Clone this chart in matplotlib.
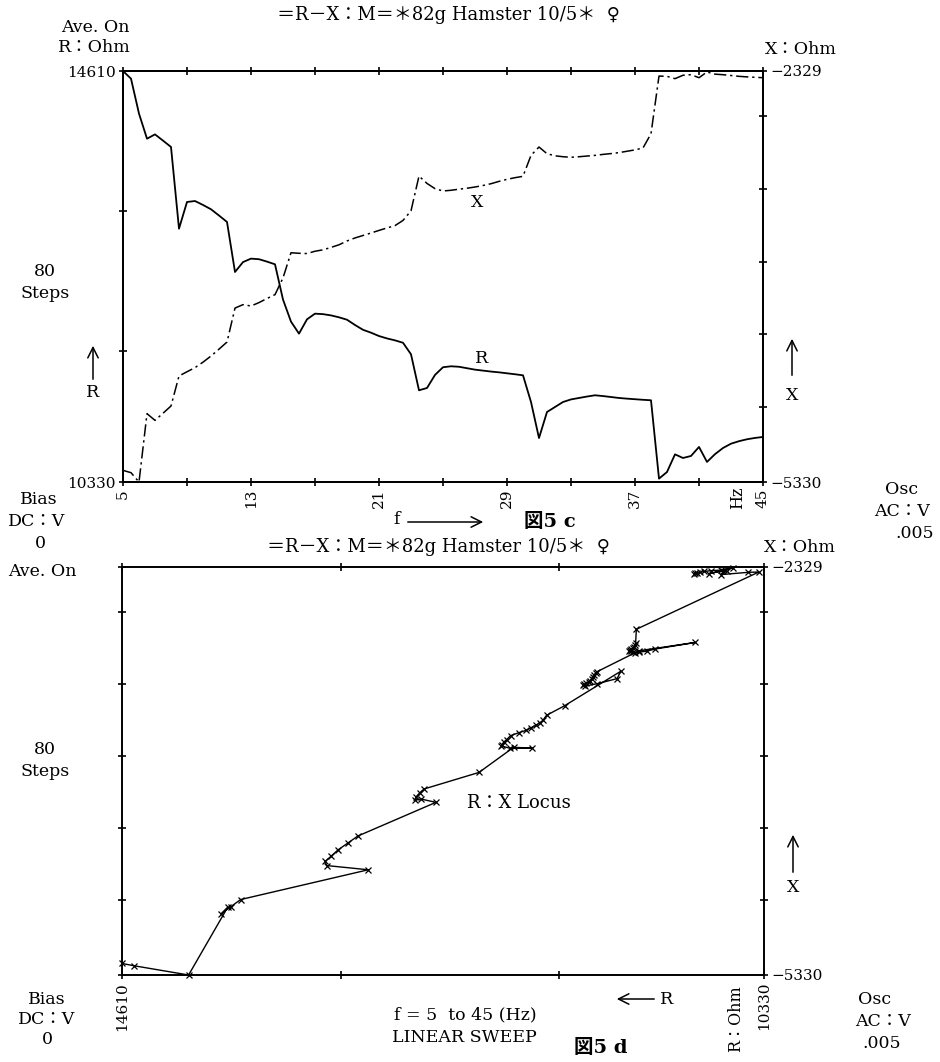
"""
R-X impedance sweep of a hamster sample (fig. 5c / 5d).

Top panel: R and X against frequency for an 80-step linear sweep.
Bottom panel: the same sweep drawn as an R:X locus.
"""
import numpy as np
import matplotlib.pyplot as plt
from matplotlib.patches import FancyArrowPatch

plt.rcParams['font.family'] = ['DejaVu Serif', 'DejaVu Sans', 'Noto Sans CJK JP']
plt.rcParams['font.size'] = 12.5

# linear sweep, 5 to 45 Hz in 80 steps
freq = np.linspace(5, 45, 81)

# resistance R (ohm) at each step
r_ohm = [
    14610, 14530, 14166, 13905, 13950, 13885, 13819, 12968, 13246, 13256,
    13215, 13170, 13105, 13038, 12517, 12620, 12656, 12650, 12625, 12597,
    12230, 12000, 11875, 12024, 12083, 12078, 12065, 12045, 12020, 11965,
    11915, 11885, 11850, 11825, 11805, 11780, 11660, 11285, 11309, 11445,
    11525, 11535, 11530, 11515, 11500, 11490, 11480, 11472, 11462, 11452,
    11441, 11163, 10788, 11059, 11111, 11163, 11190, 11205, 11220, 11233,
    11225, 11215, 11205, 11198, 11192, 11186, 11181, 10365, 10434, 10618,
    10580, 10601, 10695, 10539, 10620, 10684, 10729, 10755, 10775, 10789,
    10799,
]

# reactance X (ohm) at each step
x_ohm = [
    -5245, -5262, -5330, -4831, -4880, -4828, -4775, -4556, -4525, -4495,
    -4455, -4410, -4360, -4308, -4060, -4035, -4045, -4020, -3990, -3962,
    -3840, -3656, -3660, -3662, -3645, -3635, -3617, -3598, -3570, -3548,
    -3530, -3512, -3493, -3475, -3458, -3420, -3350, -3096, -3150, -3188,
    -3205, -3200, -3192, -3185, -3176, -3165, -3152, -3135, -3120, -3108,
    -3098, -2945, -2884, -2933, -2948, -2955, -2959, -2955, -2950, -2945,
    -2938, -2932, -2925, -2915, -2905, -2891, -2787, -2366, -2368, -2385,
    -2360, -2356, -2378, -2336, -2352, -2356, -2362, -2368, -2372, -2375,
    -2378,
]

r_range = (10330, 14610)
x_range = (-5330, -2329)
f_ticks = [5, 9, 13, 17, 21, 25, 29, 33, 37, 41, 45]
f_labels = ['5', '', '13', '', '21', '', '29', '', '37', '', '45']
r_ticks = [10330, 11695, 13150, 14610]
x_ticks = [-5330, -4780, -4250, -3720, -3190, -2660, -2329]
x_labels = ['\u22125330', '', '', '', '', '', '\u22122329']

W, H = 940, 1062
fig = plt.figure(figsize=(W / 100, H / 100), dpi=100)


def put(px, py, s, **kw):
    kw.setdefault('ha', 'center')
    kw.setdefault('va', 'center')
    fig.text(px / W, 1 - py / H, s, **kw)


def arrow(x0, y0, x1, y1):
    fig.add_artist(FancyArrowPatch(
        (x0 / W, 1 - y0 / H), (x1 / W, 1 - y1 / H),
        transform=fig.transFigure, arrowstyle='->,head_length=5,head_width=2.5',
        lw=1.1, color='black', mutation_scale=1.5))


def style(ax):
    for sp in ax.spines.values():
        sp.set_linewidth(1.4)
    ax.tick_params(direction='inout', length=6, width=1.2, labelsize=11, pad=2)


# --- top: R and X against frequency ---
ax1 = fig.add_axes([123 / W, 1 - 482 / H, 640 / W, 411 / H])
ax1.plot(freq, r_ohm, color='black', lw=1.3)
ax1.set_xlim(5, 45)
ax1.set_ylim(*r_range)
ax1.set_xticks(f_ticks)
ax1.set_xticklabels(f_labels, rotation=90, va='top')
ax1.set_yticks(r_ticks)
ax1.set_yticklabels(['10330', '', '', '14610'])
style(ax1)
ax1.tick_params(top=True, right=False)

ax1x = ax1.twinx()
ax1x.plot(freq, x_ohm, color='black', lw=1.1, linestyle=(0, (8, 2.5, 1.5, 2.5)))
ax1x.set_ylim(*x_range)
ax1x.set_yticks(x_ticks)
ax1x.set_yticklabels(x_labels)
style(ax1x)

# curve names
ax1.text(27.4, 11620, 'R', ha='center', va='center')
ax1x.text(27.1, -3286, 'X', ha='center', va='center')

# --- bottom: R:X locus ---
ax2 = fig.add_axes([122 / W, 1 - 975 / H, 642 / W, 408 / H])
ax2.plot(r_ohm, x_ohm, color='black', lw=1.0, marker='x', ms=3.8, mew=0.9,
         clip_on=False)
ax2.set_xlim(r_range[1], r_range[0])
ax2.set_ylim(*x_range)
ax2.set_xticks(r_ticks)
ax2.set_xticklabels(['10330', '', '', '14610'], rotation=90, va='top')
ax2.set_yticks(x_ticks)
ax2.set_yticklabels(x_labels)
style(ax2)
ax2.tick_params(top=True, right=True, labelleft=False, labelright=True)

# --- annotations round the panels ---
title = '\uff1dR\uff0dX\uff1aM\uff1d\uff0a82g Hamster 10/5\uff0a  \u2640'
put(448, 15, title, fontsize=13)
put(95, 27, 'Ave. On')
put(94, 47, 'R\uff1aOhm')
put(801, 49, 'X\uff1aOhm')
put(45, 272, '80')
put(45, 293, 'Steps')
arrow(93, 382, 93, 343)
put(93, 392, 'R')
arrow(792, 378, 792, 336)
put(792, 396, 'X')
put(39, 500, 'Bias')
put(37, 522, 'DC\uff1aV')
put(40, 543, '0')
put(738, 498, 'Hz', rotation=90, fontsize=11.5)
put(397, 520, 'f')
arrow(405, 522, 486, 522)
put(550, 522, '\u56f35 c', fontweight='bold', fontsize=14)
put(902, 490, 'Osc')
put(902, 512, 'AC\uff1aV')
put(915, 533, '.005')

put(438, 547, title, fontsize=13)
put(800, 547, 'X\uff1aOhm')
put(42, 572, 'Ave. On')
put(45, 750, '80')
put(45, 772, 'Steps')
put(519, 803, 'R\uff1aX Locus', fontsize=13)
arrow(793, 875, 793, 832)
put(793, 888, 'X')
put(47, 999, 'Bias')
put(47, 1020, 'DC\uff1aV')
put(47, 1040, '0')
put(465, 1015, 'f = 5  to 45 (Hz)')
put(464, 1038, 'LINEAR SWEEP')
arrow(657, 999, 614, 999)
put(667, 999, 'R')
put(601, 1048, '\u56f35 d', fontweight='bold', fontsize=14)
put(736, 1019, 'R\uff1aOhm', rotation=90, fontsize=11.5)
put(875, 999, 'Osc')
put(883, 1022, 'AC\uff1aV')
put(882, 1044, '.005')

fig.savefig('out.png', dpi=100)
